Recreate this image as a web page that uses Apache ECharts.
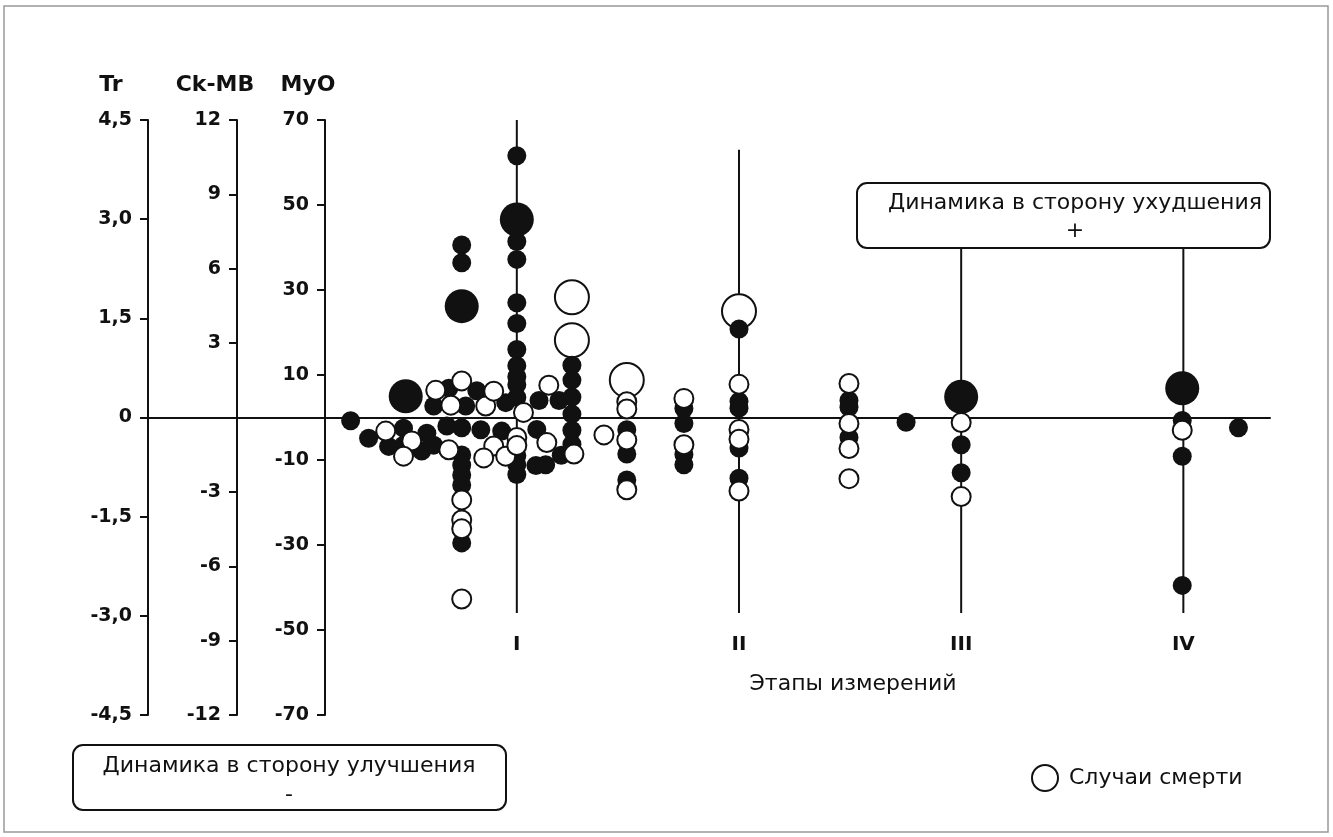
<!DOCTYPE html>
<html>
<head>
<meta charset="utf-8">
<script src="https://cdn.jsdelivr.net/npm/echarts@6/dist/echarts.min.js"></script>
<style>html,body{margin:0;padding:0;background:#fff;}#c{width:1333px;height:837px;}</style>
</head>
<body>
<div id="c"></div>
<script>
// ---- data ----
const stageLabels = ['I', 'II', 'III', 'IV'];
const stageX = [1, 2, 3, 4];
const stageTop = [70, 63, 42, 42];
const stageBottom = [-46, -46, -46, -46];
const ckmbTickValues = [-12, -9, -6, -3, 3, 6, 9, 12];
const myoTickValues = [-70, -50, -30, -10, 10, 30, 50, 70];
// points: [stage position, value on MyO scale]
const filledBigPts = [[0.5, 5.0], [0.752, 26.2], [1.0, 46.6], [3.0, 4.9], [3.995, 6.9]];
const openBigPts = [[1.248, 28.3], [1.248, 18.2], [1.495, 8.8], [2.0, 25.0]];
const filledSmallPts = [
  [0.252, -0.75], [0.694, 6.9], [0.82, 6.3], [0.626, 2.7], [0.77, 2.7], [0.95, 3.5],
  [0.333, -4.9], [0.423, -6.8], [0.49, -2.5], [0.49, -6.5], [0.595, -3.7], [0.572, -7.9],
  [0.626, -6.5], [0.685, -2.0], [0.752, -2.4], [0.838, -2.9], [0.932, -3.2],
  [0.752, -8.8], [0.752, -11.2], [0.752, -13.5], [0.752, -15.9], [0.752, -29.5],
  [0.752, 40.6], [0.752, 36.4],
  [1, 61.6], [1, 41.4], [1, 37.2], [1, 27.0], [1, 22.1], [1, 16.0], [1, 12.2], [1, 9.6], [1, 7.7], [1, 4.7],
  [1, -9.0], [1, -11.1], [1, -13.4],
  [1.1, 4.0], [1.19, 4.0], [1.09, -2.8], [1.13, -11.1], [1.086, -11.3], [1.2, -8.9],
  [1.248, 12.3], [1.248, 8.8], [1.248, 4.8], [1.248, 0.8], [1.248, -3.0], [1.248, -6.3],
  [1.495, -2.9], [1.495, -8.6], [1.495, -14.7],
  [1.752, 2.1], [1.752, -1.4], [1.752, -8.7], [1.752, -11.1],
  [2, 20.8], [2, 3.8], [2, 2.2], [2, -7.2], [2, -14.3],
  [2.495, 4.0], [2.495, 2.4], [2.495, -4.7],
  [2.752, -1.1],
  [3, -6.4], [3, -13.0],
  [3.995, -0.7], [3.995, -9.1], [3.995, -39.5], [4.248, -2.4]
];
const openSmallPts = [
  [0.635, 6.4], [0.752, 8.6], [0.703, 2.9], [0.86, 2.7], [0.896, 6.2],
  [0.41, -3.2], [0.527, -5.5], [0.49, -9.1], [0.694, -7.6], [0.896, -6.7], [0.851, -9.5], [0.95, -9.1],
  [0.752, -19.4], [0.752, -24.1], [0.752, -26.2], [0.752, -42.7],
  [1.03, 1.2], [1, -4.7], [1, -6.6],
  [1.144, 7.6], [1.135, -5.9], [1.257, -8.6],
  [1.392, -4.1],
  [1.495, 3.7], [1.495, 2.0], [1.495, -5.3], [1.495, -17.0],
  [1.752, 4.5], [1.752, -6.4],
  [2, 7.8], [2, -2.8], [2, -5.1], [2, -17.3],
  [2.495, 8.0], [2.495, -1.4], [2.495, -7.3], [2.495, -14.4],
  [3, -1.2], [3, -18.6],
  [3.995, -3.0]
];
const deathName = 'Случаи смерти';

// ---- chart ----
const FONT = 'DejaVu Sans';
const INK = '#111';
const chart = echarts.init(document.getElementById('c'), null, {renderer: 'canvas'});

function labelStyle(extra) {
  return Object.assign({margin: 16, color: INK, fontFamily: FONT, fontSize: 19, fontWeight: 'bold'}, extra);
}
function yAx(extra) {
  return Object.assign({
    type: 'value', position: 'left', nameLocation: 'end', nameGap: 24,
    axisLine: {show: true, onZero: false, lineStyle: {color: INK, width: 2}},
    axisTick: {show: true, length: 8, lineStyle: {color: INK, width: 2}},
    axisLabel: labelStyle({}),
    splitLine: {show: false}
  }, extra);
}
function nameStyle(pad) {
  return {fontFamily: FONT, fontSize: 22, fontWeight: 'bold', color: INK, align: 'center', verticalAlign: 'bottom', padding: [0, pad, 0, 0]};
}

const stageSeries = stageX.map((x, i) => ({
  type: 'line', xAxisIndex: 0, yAxisIndex: 2, silent: true, z: 1,
  data: [[x, stageTop[i]], [x, stageBottom[i]]],
  symbol: 'none', lineStyle: {color: INK, width: 2}
}));

const option = {
  animation: false,
  backgroundColor: '#fff',
  grid: {left: 148, right: 63, top: 120, bottom: 122, outerBoundsMode: 'none'},
  xAxis: [
    {type: 'value', min: -0.66, max: 4.39,
     axisLine: {show: true, onZero: true, onZeroAxisIndex: 0, lineStyle: {color: INK, width: 2}},
     axisTick: {show: false}, axisLabel: {show: false}, splitLine: {show: false}},
    {type: 'value', min: -0.66, max: 4.39, position: 'bottom', offset: -88,
     axisLine: {show: false, onZero: false}, axisTick: {show: false}, splitLine: {show: false},
     axisLabel: {show: true, customValues: stageX, margin: 8, color: INK, fontFamily: FONT, fontSize: 20, fontWeight: 'bold',
       formatter: v => stageLabels[stageX.indexOf(v)] || ''}}
  ],
  yAxis: [
    yAx({name: 'Tr', min: -4.5, max: 4.5, interval: 1.5, nameTextStyle: nameStyle(74),
      axisLabel: labelStyle({formatter: v => Math.abs(v) < 1e-9 ? '0' : v.toFixed(1).replace('.', ',')})}),
    yAx({name: 'Ck-MB', min: -12, max: 12, offset: -89, nameTextStyle: nameStyle(44),
      axisTick: {show: true, length: 8, customValues: ckmbTickValues, lineStyle: {color: INK, width: 2}},
      axisLabel: labelStyle({customValues: ckmbTickValues})}),
    yAx({name: 'MyO', min: -70, max: 70, offset: -177, nameTextStyle: nameStyle(34),
      axisTick: {show: true, length: 8, customValues: myoTickValues, lineStyle: {color: INK, width: 2}},
      axisLabel: labelStyle({customValues: myoTickValues})})
  ],
  legend: {
    data: [deathName], left: 1026, top: 759, icon: 'circle', itemWidth: 26, itemHeight: 26,
    selectedMode: false,
    itemStyle: {color: '#fff', borderColor: INK, borderWidth: 2},
    textStyle: {fontFamily: FONT, fontSize: 22, color: INK, padding: [0, 0, 0, 6]}
  },
  series: stageSeries.concat([
    {type: 'scatter', name: 'big', xAxisIndex: 0, yAxisIndex: 2, z: 3, silent: true,
     data: filledBigPts, symbolSize: 34, itemStyle: {color: INK, opacity: 1}},
    {type: 'scatter', name: deathName, xAxisIndex: 0, yAxisIndex: 2, z: 4, silent: true,
     data: openBigPts, symbolSize: 34, itemStyle: {color: '#fff', borderColor: INK, borderWidth: 2, opacity: 1}},
    {type: 'scatter', name: 'small', xAxisIndex: 0, yAxisIndex: 2, z: 5, silent: true,
     data: filledSmallPts, symbolSize: 19, itemStyle: {color: INK, opacity: 1}},
    {type: 'scatter', name: deathName, xAxisIndex: 0, yAxisIndex: 2, z: 6, silent: true,
     data: openSmallPts, symbolSize: 19, itemStyle: {color: '#fff', borderColor: INK, borderWidth: 2, opacity: 1}}
  ]),
  graphic: [
    {type: 'rect', silent: true, z: 0, shape: {x: 4, y: 6, width: 1324, height: 826},
     style: {fill: 'none', stroke: '#999', lineWidth: 1.5}},
    {type: 'rect', silent: true, z: 10, shape: {x: 857, y: 183, width: 413, height: 65, r: 10},
     style: {fill: '#fff', stroke: INK, lineWidth: 2}},
    {type: 'text', silent: true, z: 11, x: 1075, y: 203,
     style: {text: 'Динамика в сторону ухудшения', fontFamily: FONT, fontSize: 22, fill: INK, align: 'center', verticalAlign: 'middle'}},
    {type: 'text', silent: true, z: 11, x: 1075, y: 231,
     style: {text: '+', fontFamily: FONT, fontSize: 22, fill: INK, align: 'center', verticalAlign: 'middle'}},
    {type: 'rect', silent: true, z: 10, shape: {x: 73, y: 745, width: 433, height: 65, r: 10},
     style: {fill: '#fff', stroke: INK, lineWidth: 2}},
    {type: 'text', silent: true, z: 11, x: 289, y: 766,
     style: {text: 'Динамика в сторону улучшения', fontFamily: FONT, fontSize: 22, fill: INK, align: 'center', verticalAlign: 'middle'}},
    {type: 'text', silent: true, z: 11, x: 289, y: 795,
     style: {text: '-', fontFamily: FONT, fontSize: 22, fill: INK, align: 'center', verticalAlign: 'middle'}},
    {type: 'text', silent: true, z: 11, x: 853, y: 684,
     style: {text: 'Этапы измерений', fontFamily: FONT, fontSize: 22, fill: INK, align: 'center', verticalAlign: 'middle'}}
  ]
};
chart.setOption(option);
</script>
</body>
</html>
